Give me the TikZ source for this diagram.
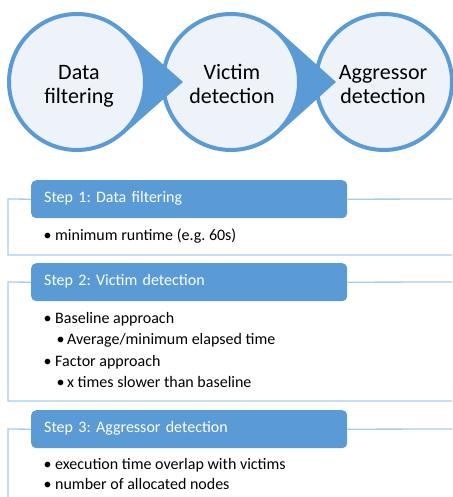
\documentclass[tikz,border=0pt]{standalone}
\usepackage{fontspec}
\setmainfont{Carlito}
\frenchspacing
\definecolor{accent}{HTML}{5B9BD5}
\definecolor{circfill}{HTML}{EEF3FA}
\definecolor{framecol}{HTML}{A9CBEA}
\begin{document}
\frenchspacing
\begin{tikzpicture}[x=1pt,y=-1pt,
  circ/.style={circle, draw=accent, line width=4pt, fill=circfill, minimum size=136pt, inner sep=0pt},
  ctext/.style={align=center, inner sep=0pt, text=black, font=\fontsize{22}{24}\selectfont},
  hull/.style={fill=accent},
  hdr/.style={rectangle, rounded corners=5pt, fill=accent, anchor=north west,
    minimum height=38pt, text width=290pt, inner xsep=13pt, inner ysep=0pt,
    text height=11pt, text depth=4pt, align=left, text=white, font=\fontsize{16}{19}\selectfont\frenchspacing},
  frm/.style={draw=framecol, line width=1.3pt},
  bul/.style={anchor=base west, inner sep=0pt, text=black, font=\fontsize{16}{19}\selectfont\frenchspacing},
]
\useasboundingbox (0,0) rectangle (452,497);
\fill[white] (0,0) rectangle (452,497);

% circles (back to front)
\node[circ] (c3) at (384,82) {};
\coordinate (t2) at (336,82);
\fill[hull] (t2) -- (277.7,29.8) -- (231,82) -- (277.7,134.2) -- cycle;
\node[circ] (c2) at (231,82) {};
\coordinate (t1) at (183,82);
\fill[hull] (t1) -- (123.7,29.8) -- (77,82) -- (123.7,134.2) -- cycle;
\node[circ] (c1) at (77,82) {};

\node[ctext] (l1) at (79,85.5) {Data\vphantom{Adg}\\filtering\vphantom{Adg}};
\node[ctext] (l2) at (232,85.5) {Victim\vphantom{Adg}\\detection\vphantom{Adg}};
\node[ctext] (l3) at (383,85.5) {Aggressor\vphantom{Adg}\\detection\vphantom{Adg}};

% Step 1
\node[hdr] (h1) at (31,180) {Step 1: Data filtering};
\draw[frm] (h1.west) -- (8,199) -- (8,255) -- (452,255);
\draw[frm] (h1.east) -- (452,199);
\node[bul] (b11) at (43.5,240) {\makebox[11.5pt][l]{•}minimum runtime (e.g. 60s)};

% Step 2
\node[hdr] (h2) at (31,263) {Step 2: Victim detection};
\draw[frm] (h2.west) -- (8,282) -- (8,401) -- (452,401);
\draw[frm] (h2.east) -- (452,282);
\node[bul] (b21) at (43.5,323) {\makebox[11.5pt][l]{•}Baseline approach};
\node[bul] (b22) at (56.5,344) {\makebox[10.5pt][l]{•}Average/minimum elapsed time};
\node[bul] (b23) at (43.5,366) {\makebox[11.5pt][l]{•}Factor approach};
\node[bul] (b24) at (56.5,387) {\makebox[10.5pt][l]{•}x times slower than baseline};

% Step 3
\node[hdr] (h3) at (31,410) {Step 3: Aggressor detection};
\draw[frm] (h3.west) -- (8,429) -- (8,500);
\draw[frm] (h3.east) -- (452,429);
\node[bul] (b31) at (43.5,469) {\makebox[11.5pt][l]{•}execution time overlap with victims};
\node[bul] (b32) at (43.5,489) {\makebox[11.5pt][l]{•}number of allocated nodes};
\end{tikzpicture}
\end{document}
